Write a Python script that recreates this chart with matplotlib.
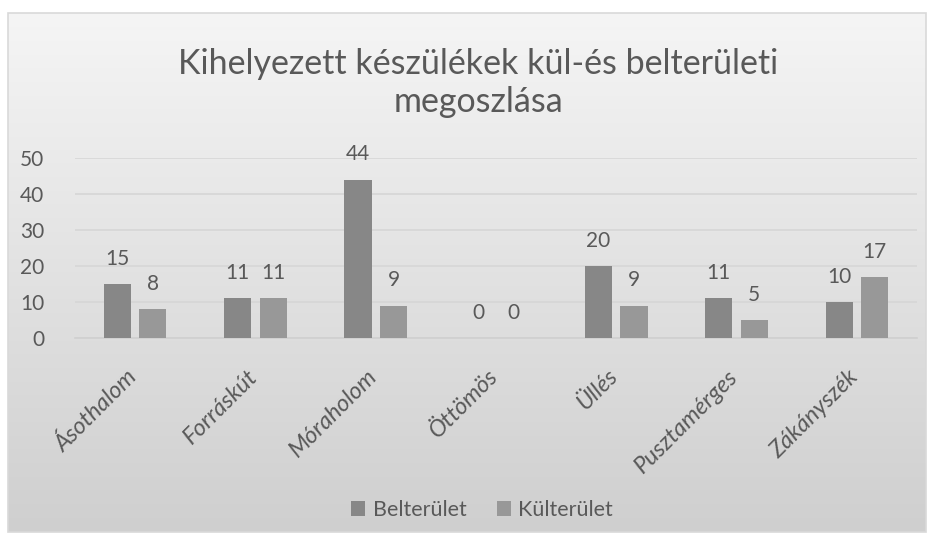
import numpy as np
import matplotlib
matplotlib.use("Agg")
import matplotlib.pyplot as plt
from matplotlib.patches import Rectangle
from matplotlib.colors import LinearSegmentedColormap
from matplotlib.transforms import ScaledTranslation

telepulesek = ["Ásothalom", "Forráskút", "Móraholom", "Öttömös", "Üllés", "Pusztamérges", "Zákányszék"]
belterulet = [15, 11, 44, 0, 20, 11, 10]
kulterulet = [8, 11, 9, 0, 9, 5, 17]
series_names = ["Belterület", "Külterület"]

plt.rcParams['font.family'] = ['Lato', 'DejaVu Sans']
text_col = "#595959"

fig = plt.figure(figsize=(9.34, 5.44), dpi=100)
fig.patch.set_facecolor("white")

# gradient background of the chart area (light on top, darker at bottom)
bg = fig.add_axes([0, 0, 1, 1], zorder=-10)
bg.set_axis_off()
grad = np.linspace(0, 1, 256).reshape(-1, 1)
x0, x1 = 8 / 934, 926 / 934
y0, y1 = 1 - 532 / 544, 1 - 13 / 544
cm = LinearSegmentedColormap.from_list("g", ["#f5f5f5", "#cfcfcf"])
bg.imshow(grad, extent=[x0, x1, y0, y1], aspect="auto", cmap=cm, origin="upper")
bg.add_patch(Rectangle((x0, y0), x1 - x0, y1 - y0, fill=False, edgecolor="#d9d9d9", lw=1.2))
bg.set_xlim(0, 1)
bg.set_ylim(0, 1)

ax = fig.add_axes([75 / 934, 1 - 338 / 544, (917 - 75) / 934, (338 - 158) / 544])
ax.patch.set_alpha(0)

x = np.arange(len(telepulesek))
w = 0.225
gap = 0.035
b1 = ax.bar(x - w / 2 - gap, belterulet, w, color="#878787", label=series_names[0], zorder=3)
b2 = ax.bar(x + w / 2 + gap, kulterulet, w, color="#989898", label=series_names[1], zorder=3)

for bars, vals in ((b1, belterulet), (b2, kulterulet)):
    for r, v in zip(bars, vals):
        ax.annotate(str(v), (r.get_x() + r.get_width() / 2, v), xytext=(0, 11),
                    textcoords="offset points", ha="center", va="bottom",
                    fontsize=15, color=text_col)

ax.set_xlim(-0.5, len(telepulesek) - 0.5)
ax.set_ylim(0, 50)
ax.set_yticks(range(0, 51, 10))
ax.yaxis.grid(True, color="#d6d6d6", lw=1.2, zorder=0)
ax.set_axisbelow(True)
for s in ["top", "right", "left"]:
    ax.spines[s].set_visible(False)
ax.spines["bottom"].set_color("#cfcfcf")
ax.spines["bottom"].set_linewidth(1.2)
ax.tick_params(axis="both", length=0, labelsize=15, colors=text_col)
ax.tick_params(axis="y", pad=22)
ax.set_xticks(x)
ax.set_xticklabels(telepulesek, rotation=45, ha="right", rotation_mode="anchor",
                   style="italic", fontsize=17, color=text_col)
ax.tick_params(axis="x", pad=20)
shift = ScaledTranslation(-9 / 100, 0, fig.dpi_scale_trans)
for lab in ax.get_xticklabels():
    lab.set_transform(lab.get_transform() + shift)

fig.text(478 / 934, 1 - 83 / 544, "Kihelyezett készülékek kül-és belterületi\nmegoszlása",
         ha="center", va="center", fontsize=24.5, color=text_col, linespacing=1.2)

fig.legend(handles=[b1, b2], loc="center", bbox_to_anchor=(482 / 934, 1 - 510 / 544),
           ncol=2, frameon=False, fontsize=15.5, labelcolor=text_col,
           handlelength=0.65, handleheight=0.65, handletextpad=0.35, columnspacing=1.4)

fig.savefig("out.png", dpi=100)
